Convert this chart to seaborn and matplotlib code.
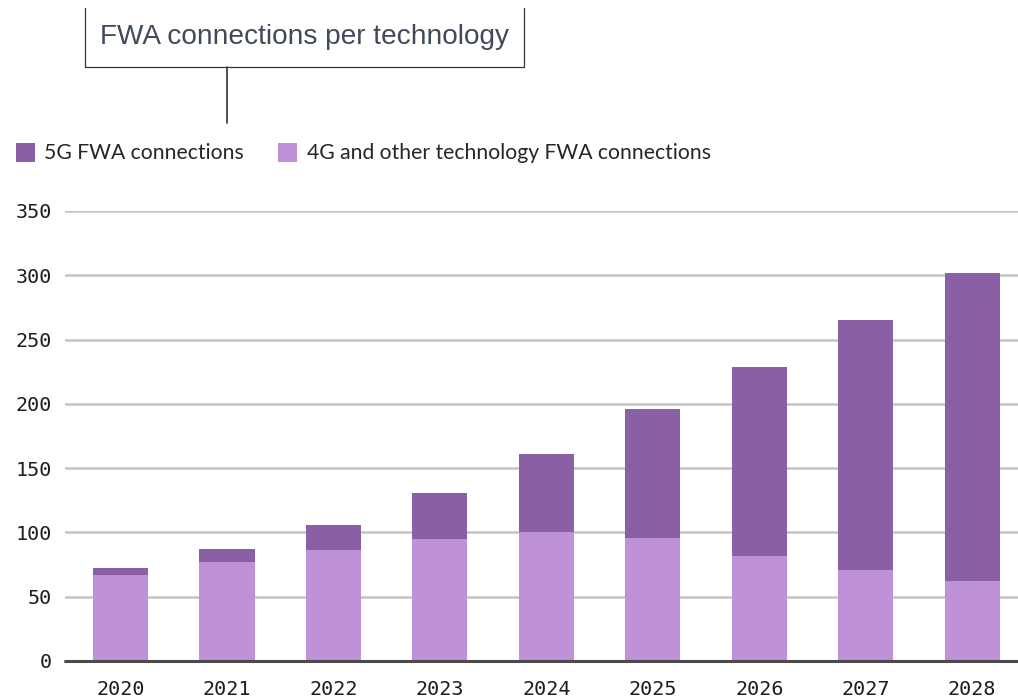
import matplotlib
matplotlib.use("Agg")
import matplotlib.pyplot as plt
from matplotlib.lines import Line2D
from matplotlib.patches import Patch
import seaborn as sns
import pandas as pd

years = ["2020", "2021", "2022", "2023", "2024", "2025", "2026", "2027", "2028"]
fwa_4g_other = [67, 77, 86, 95, 100, 96, 82, 71, 62]
fwa_5g = [5, 10, 20, 36, 61, 100, 147, 194, 240]
yticks = [0, 50, 100, 150, 200, 250, 300, 350]
title = "FWA connections per technology"
legend_labels = ["5G FWA connections", "4G and other technology FWA connections"]

c5g = "#8b5fa6"
c4g = "#be91d9"

sns.set_theme(style="white")
fig = plt.figure(figsize=(10.18, 7.0), dpi=100)
ax = fig.add_axes([65 / 1018, 1 - 661 / 700, (1018 - 65) / 1018, (661 - 211) / 700])

df = pd.DataFrame({"year": years, "g4": fwa_4g_other, "g5": fwa_5g})
df["total"] = df["g4"] + df["g5"]

sns.barplot(data=df, x="year", y="total", color=c5g, width=0.52, ax=ax,
            saturation=1, edgecolor="none", zorder=3)
sns.barplot(data=df, x="year", y="g4", color=c4g, width=0.52, ax=ax,
            saturation=1, edgecolor="none", zorder=3)

ax.set_xlim(-0.52, 8.43)
ax.set_ylim(0, 350)
ax.set_yticks(yticks)
ax.set_xlabel("")
ax.set_ylabel("")
for s in ["top", "right", "left", "bottom"]:
    ax.spines[s].set_visible(False)
for v in yticks[1:]:
    ax.axhline(v, color="#c4c4c4", lw=1.8, zorder=1)
ax.axhline(0, color="#4a4a4a", lw=2.2, zorder=4, clip_on=False)
ax.tick_params(axis="both", length=0, labelsize=14.5, colors="#1e1e1e")
ax.tick_params(axis="y", pad=9.5)
ax.tick_params(axis="x", pad=13.5)
for lab in ax.get_xticklabels() + ax.get_yticklabels():
    lab.set_fontfamily("DejaVu Sans Mono")

# title box
W, H = 1018, 700
def fx(x): return x / W
def fy(y): return 1 - y / H
box_col = "#333333"
fig.add_artist(Line2D([fx(85), fx(85)], [fy(8), fy(67)], color=box_col, lw=0.9))
fig.add_artist(Line2D([fx(524), fx(524)], [fy(8), fy(67)], color=box_col, lw=0.9))
fig.add_artist(Line2D([fx(85), fx(524)], [fy(67), fy(67)], color=box_col, lw=0.9))
fig.add_artist(Line2D([fx(227), fx(227)], [fy(67), fy(123)], color=box_col, lw=1.2))
fig.text(fx(305), fy(37), title, ha="center", va="center", fontsize=20.2,
         family="Liberation Sans", color="#3f4b5b")

handles = [Patch(facecolor=c5g, edgecolor="none"), Patch(facecolor=c4g, edgecolor="none")]
fig.legend(handles, legend_labels, loc="center left", bbox_to_anchor=(fx(16), fy(153)),
           ncol=2, frameon=False, prop={"family": "Lato", "size": 15.2},
           borderaxespad=0, borderpad=0,
           handlelength=0.9, handleheight=1.05, handletextpad=0.45, columnspacing=1.6)

fig.savefig("out.png", dpi=100)
